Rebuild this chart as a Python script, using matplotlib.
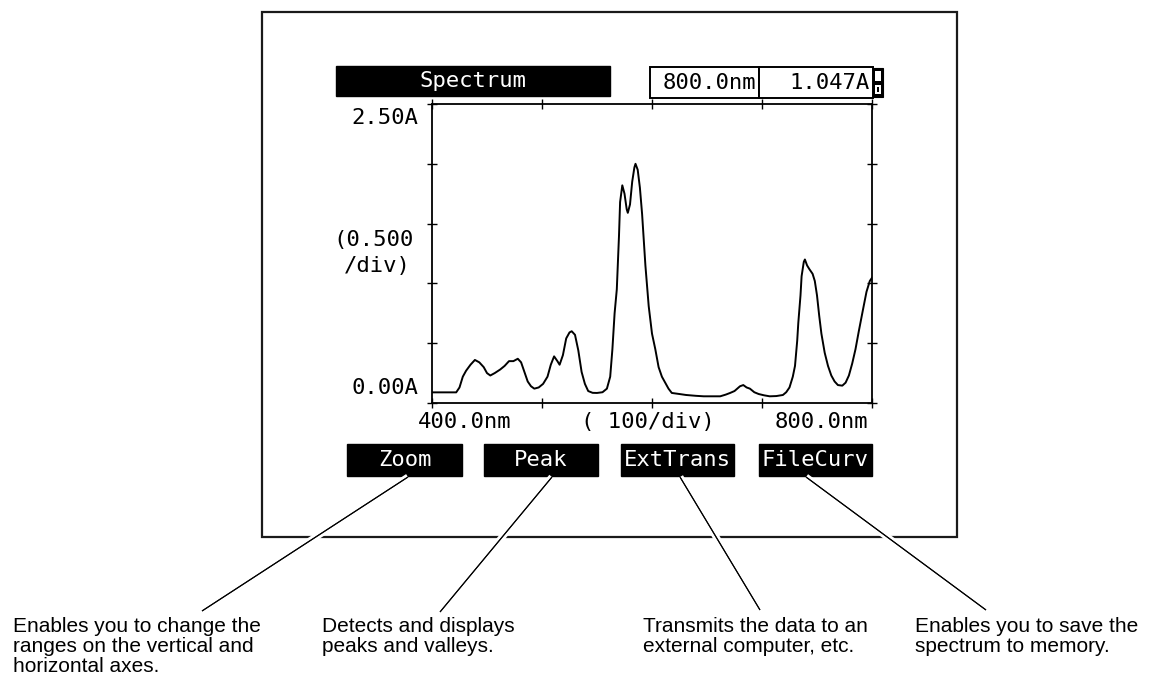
import matplotlib
matplotlib.use("Agg")
import matplotlib.pyplot as plt
import matplotlib.patches as mpatches
import matplotlib.patheffects as pe

# Absorbance spectrum (wavelength in nm, absorbance in A)
wavelength = [400, 422, 425, 428, 431, 435, 439, 443, 447, 450, 453, 457, 462, 466,
              470, 474, 478, 481, 484, 487, 490, 493, 497, 501, 505, 508, 511, 514,
              516, 519, 522, 525, 527, 530, 533, 536, 539, 542, 546, 550, 555, 559,
              562, 564, 566, 568, 570, 571, 573, 575, 577, 578, 580, 582, 584, 585,
              587, 589, 591, 594, 597, 600, 603, 606, 609, 612, 615, 618, 625, 631,
              640, 647, 655, 662, 667, 671, 675, 680, 683, 686, 689, 693, 697, 702,
              707, 713, 719, 722, 725, 728, 730, 732, 733, 735, 736, 738, 739, 741,
              743, 746, 748, 750, 752, 754, 757, 760, 763, 766, 769, 773, 776, 779,
              782, 785, 788, 792, 795, 798, 800]
absorbance = [0.089, 0.089, 0.13, 0.22, 0.27, 0.32, 0.36, 0.34, 0.30, 0.25, 0.23, 0.25,
              0.28, 0.31, 0.35, 0.35, 0.37, 0.34, 0.26, 0.18, 0.14, 0.12, 0.13, 0.16,
              0.22, 0.32, 0.39, 0.35, 0.32, 0.40, 0.54, 0.59, 0.60, 0.57, 0.44, 0.26,
              0.16, 0.10, 0.085, 0.084, 0.09, 0.12, 0.22, 0.45, 0.75, 0.95, 1.40, 1.68,
              1.82, 1.75, 1.62, 1.59, 1.66, 1.85, 1.97, 2.00, 1.95, 1.80, 1.58, 1.15,
              0.81, 0.58, 0.45, 0.30, 0.22, 0.17, 0.12, 0.084, 0.075, 0.067, 0.060,
              0.056, 0.056, 0.056, 0.07, 0.084, 0.10, 0.14, 0.15, 0.13, 0.12, 0.09,
              0.075, 0.064, 0.056, 0.058, 0.067, 0.09, 0.13, 0.22, 0.31, 0.52, 0.67,
              0.90, 1.06, 1.18, 1.20, 1.15, 1.12, 1.08, 1.02, 0.90, 0.73, 0.58, 0.42,
              0.31, 0.23, 0.18, 0.15, 0.145, 0.17, 0.23, 0.33, 0.45, 0.60, 0.79, 0.93,
              1.02, 1.047]

# Screen texts
screen_title = "Spectrum"
cursor_wavelength = "800.0nm"
cursor_value = "1.047A"
y_labels = ["2.50A", "(0.500", "/div)", "0.00A"]
x_labels = ["400.0nm", "( 100/div)", "800.0nm"]
x_ticks = [400, 500, 600, 700, 800]
y_ticks = [0.0, 0.5, 1.0, 1.5, 2.0, 2.5]
buttons = ["Zoom", "Peak", "ExtTrans", "FileCurv"]
descriptions = [
    "Enables you to change the\nranges on the vertical and\nhorizontal axes.",
    "Detects and displays\npeaks and valleys.",
    "Transmits the data to an\nexternal computer, etc.",
    "Enables you to save the\nspectrum to memory.",
]

W, H = 1154, 678
fig = plt.figure(figsize=(W / 100, H / 100), dpi=100)
fig.patch.set_facecolor("white")

# Pixel-space canvas for the screen furniture and callouts
canvas = fig.add_axes([0, 0, 1, 1])
canvas.set_xlim(0, W)
canvas.set_ylim(H, 0)
canvas.axis("off")

LCD = dict(family="DejaVu Sans Mono", fontsize=16, color="black")
NOTE = dict(family="Liberation Sans", fontsize=15, color="black")

# Outer frame of the instrument screen
canvas.add_patch(mpatches.Rectangle((262, 12), 695, 525, fill=False,
                                    edgecolor="#1a1a1a", lw=1.6))

# Title bar and cursor readout
canvas.add_patch(mpatches.Rectangle((336, 66), 274, 30, facecolor="black",
                                    edgecolor="black", lw=1))
canvas.text(473, 81, screen_title, ha="center", va="center",
            **{**LCD, "color": "white"})
canvas.add_patch(mpatches.Rectangle((650, 67), 109, 31, facecolor="white",
                                    edgecolor="black", lw=1.4))
canvas.add_patch(mpatches.Rectangle((759, 67), 114, 31, facecolor="white",
                                    edgecolor="black", lw=1.4))
canvas.text(756, 83, cursor_wavelength, ha="right", va="center", **LCD)
canvas.text(870, 83, cursor_value, ha="right", va="center", **LCD)
canvas.add_patch(mpatches.Rectangle((873, 68), 10, 29, facecolor="black",
                                    edgecolor="black", lw=0.8))
canvas.add_patch(mpatches.Rectangle((875, 71), 6, 10, facecolor="white",
                                    edgecolor="none"))
canvas.add_patch(mpatches.Rectangle((875, 85), 6, 9, facecolor="white",
                                    edgecolor="none"))
canvas.add_patch(mpatches.Rectangle((877, 87), 2, 5, facecolor="black",
                                    edgecolor="none"))

# Axis annotations on the screen
y_label_pos = [(418, 118), (414, 240), (411, 266), (418, 388)]
for txt, (x, y) in zip(y_labels, y_label_pos):
    canvas.text(x, y, txt, ha="right", va="center", **LCD)
x_label_pos = [(465, 422), (648, 422), (821, 422)]
for txt, (x, y) in zip(x_labels, x_label_pos):
    canvas.text(x, y, txt, ha="center", va="center", **LCD)

# Function keys
button_x = [(347, 462), (484, 598), (621, 734), (759, 872)]
for label, (x0, x1) in zip(buttons, button_x):
    canvas.add_patch(mpatches.Rectangle((x0, 444), x1 - x0, 32,
                                        facecolor="black", edgecolor="black"))
    canvas.text((x0 + x1) / 2, 460, label, ha="center", va="center",
                **{**LCD, "color": "white"})

# Callout lines from keys to their descriptions
callouts = [((408, 477), (202, 611)), ((552, 477), (440, 612)),
            ((680, 477), (760, 610)), ((806, 477), (986, 610))]
for (x0, y0), (x1, y1) in callouts:
    canvas.plot([x0, x1], [y0, y1], color="black", lw=0.8,
                solid_capstyle="butt",
                path_effects=[pe.withStroke(linewidth=5, foreground="white"),
                              pe.Normal()])

desc_x = [13, 322, 643, 915]
for txt, x in zip(descriptions, desc_x):
    canvas.text(x, 616.5, txt, ha="left", va="top", linespacing=1.08, **NOTE)

# Spectrum plot area
left, right, top, bottom = 432, 872, 104, 403
ax = fig.add_axes([left / W, (H - bottom) / H, (right - left) / W,
                   (bottom - top) / H])
ax.patch.set_alpha(0)
ax.plot(wavelength, absorbance, color="black", lw=1.4)
ax.set_xlim(400, 800)
ax.set_ylim(0, 2.5)
ax.set_xticks(x_ticks)
ax.set_yticks(y_ticks)
ax.tick_params(direction="inout", length=7, width=1, top=True, right=True,
               labelbottom=False, labelleft=False)
for sp in ax.spines.values():
    sp.set_linewidth(1.3)
    sp.set_color("black")

fig.savefig("out.png", dpi=100, facecolor="white")
